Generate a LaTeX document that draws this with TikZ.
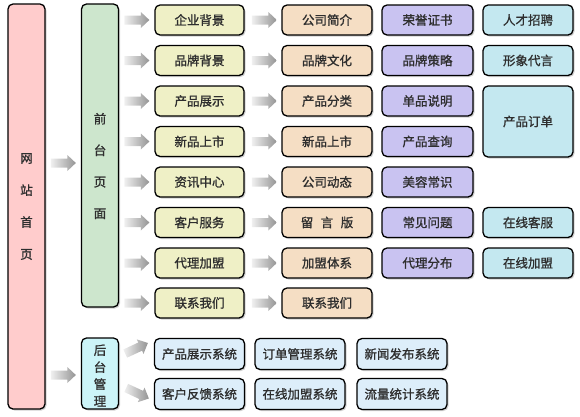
\documentclass[tikz,border=0pt]{standalone}
\usepackage{fontspec}
\setmainfont{Noto Sans CJK SC}[FakeBold=1.2]
\usetikzlibrary{shadows,calc}
\definecolor{txt}{HTML}{2E2E2E}
\definecolor{cpink}{HTML}{FFCCCC}
\definecolor{cgreen}{HTML}{CDE6CD}
\definecolor{cyel}{HTML}{EFF0C6}
\definecolor{cpeach}{HTML}{F5DEC4}
\definecolor{clav}{HTML}{C9C3F1}
\definecolor{ccyan}{HTML}{C4E8F0}
\definecolor{cback}{HTML}{CCF4F8}
\definecolor{csys}{HTML}{DDEEFA}
\begin{document}
\begin{tikzpicture}[x=1pt,y=-1pt,
  box/.style={draw=black, line width=1.3pt, rounded corners=5pt, minimum height=30pt,
    inner sep=0pt, font=\fontsize{12.5}{14}\selectfont, text=txt,
    drop shadow={shadow xshift=1.5pt, shadow yshift=-1.5pt, opacity=0.3, fill=black!60}},
  c1/.style={box, fill=cyel, minimum width=89pt},
  c2/.style={box, fill=cpeach, minimum width=90pt},
  c3/.style={box, fill=clav, minimum width=91pt},
  c4/.style={box, fill=ccyan, minimum width=90pt},
  sys/.style={box, fill=csys, minimum width=90pt, minimum height=31pt},
  tall/.style={box, minimum width=37pt},
  vtext/.style={align=center, text=txt, inner sep=0pt},
  garrow/.pic={\shade[left color=black!6, right color=black!42]
    (-25,-4.5) -- (-8.5,-4.5) -- (-8.5,-8) -- (0,0) -- (-8.5,8) -- (-8.5,4.5) -- (-25,4.5) -- cycle;}]
\useasboundingbox (0,0) rectangle (580,416);

% tall boxes
\node[tall, fill=cpink, minimum height=405pt] (home) at (26.5,206.5) {};
\node[vtext, font=\fontsize{12.5}{32}\selectfont] (hometext) at (home.center) {网\\站\\首\\页};
\node[tall, fill=cgreen, minimum height=303pt] (front) at (100,155.5) {};
\node[vtext, font=\fontsize{12.5}{31.5}\selectfont] (fronttext) at ($(front.center)+(0,10.5)$) {前\\台\\页\\面};
\node[tall, fill=cback, minimum height=71pt] (back) at (100,373.5) {};
\node[vtext, font=\fontsize{12.5}{17}\selectfont] (backtext) at ($(back.center)+(0,2)$) {后\\台\\管\\理};

% column 1
\node[c1] (a1) at (199.5,20) {企业背景};
\node[c1] (a2) at (199.5,60.5) {品牌背景};
\node[c1] (a3) at (199.5,101) {产品展示};
\node[c1] (a4) at (199.5,141.5) {新品上市};
\node[c1] (a5) at (199.5,182) {资讯中心};
\node[c1] (a6) at (199.5,222.5) {客户服务};
\node[c1] (a7) at (199.5,263) {代理加盟};
\node[c1] (a8) at (199.5,303) {联系我们};

% column 2
\node[c2] (b1) at (327,20) {公司简介};
\node[c2] (b2) at (327,60.5) {品牌文化};
\node[c2] (b3) at (327,101) {产品分类};
\node[c2] (b4) at (327,141.5) {新品上市};
\node[c2] (b5) at (327,182) {公司动态};
\node[c2] (b6) at (327,222.5) {留\hspace{0.6em}言\hspace{0.6em}版};
\node[c2] (b7) at (327,263) {加盟体系};
\node[c2] (b8) at (327,303) {联系我们};

% column 3
\node[c3] (d1) at (427.5,20) {荣誉证书};
\node[c3] (d2) at (427.5,60.5) {品牌策略};
\node[c3] (d3) at (427.5,101) {单品说明};
\node[c3] (d4) at (427.5,141.5) {产品查询};
\node[c3] (d5) at (427.5,182) {美容常识};
\node[c3] (d6) at (427.5,222.5) {常见问题};
\node[c3] (d7) at (427.5,263) {代理分布};

% column 4
\node[c4] (e1) at (528,20) {人才招聘};
\node[c4] (e2) at (528,60.5) {形象代言};
\node[c4, minimum height=71pt] (e3) at (528,121.5) {产品订单};
\node[c4] (e6) at (528,222.5) {在线客服};
\node[c4] (e7) at (528,263) {在线加盟};

% back-end systems
\node[sys] (s1) at (199.5,354) {产品展示系统};
\node[sys] (s2) at (300,354) {订单管理系统};
\node[sys] (s3) at (402,354) {新闻发布系统};
\node[sys] (s4) at (199.5,394) {客户反馈系统};
\node[sys] (s5) at (300,394) {在线加盟系统};
\node[sys] (s6) at (402,394) {流量统计系统};

% arrows (tip placed just before the target box)
\pic (h1) at ($(front.west |- 0,163)+(-5,0)$) {garrow};
\pic (h2) at ($(back.west)+(-5,1.5)$) {garrow};
\foreach \i in {1,...,8}{
  \pic (fa\i) at ($(a\i.west)+(-5,0)$) {garrow};
  \pic (ab\i) at ($(b\i.west)+(-4.5,0)$) {garrow};
}
\pic[rotate=25] (k1) at ($(s1.west)+(-6,-11)$) {garrow};
\pic[rotate=-25] (k2) at ($(s4.west)+(-5,4.5)$) {garrow};
\end{tikzpicture}
\end{document}
